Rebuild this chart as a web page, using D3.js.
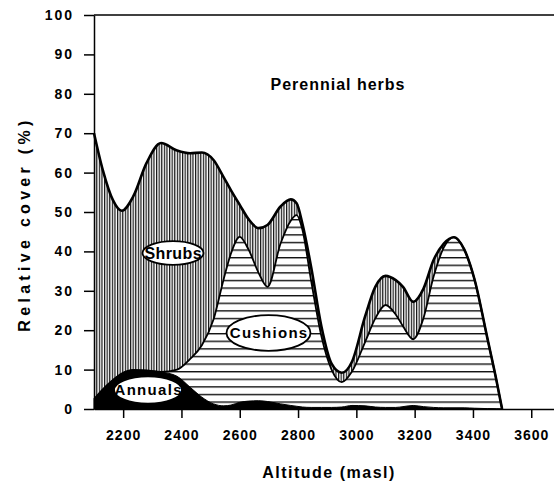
<!DOCTYPE html>
<html><head><meta charset="utf-8">
<script src="https://cdn.jsdelivr.net/npm/d3@7"></script>
<style>body{margin:0;background:#fff}svg{display:block}</style>
</head><body>
<svg id="chart" width="554" height="483"></svg>
<script>
// Altitude (m a.s.l.) sample points
const altitude = [2100,2130,2165,2195,2235,2280,2330,2385,2430,2470,2510,2545,2570,2600,2630,2665,2695,2740,2775,2795,2815,2845,2880,2915,2950,2985,3030,3065,3100,3135,3160,3195,3230,3265,3300,3335,3370,3405,3450,3480,3500];
// Relative cover (%) of each life form
const annuals  = [2.5,5,7.4,9,9.9,9.8,9.4,8.3,5.5,3,1.3,0.8,1,1.7,2,2.1,1.9,1.3,0.9,0.7,0.5,0.4,0.4,0.4,0.5,0.9,0.8,0.5,0.4,0.4,0.6,0.9,0.6,0.4,0.3,0.3,0.3,0.2,0.1,0.05,0];
const cushions = [0,0,0,0,0,0,0,1.7,7.2,13.2,21.4,32.2,38.5,42,38.5,32.4,29.1,40.7,46.9,48.5,45,32.1,18.1,9.6,6.3,8.6,16.2,22.5,26,23.6,20.4,16.8,22.4,33.2,40.7,43.3,40.2,32.8,17.7,7.45,0];
const shrubs   = [67.5,55.7,45.6,41.3,44.1,52.6,58.1,55.6,52.2,48.9,40.5,25.8,16,8.1,7.7,11.4,15.7,9.4,5.4,3,1.5,3.5,2.5,1.5,2.4,2.5,6.5,8,7.4,8.7,10,9.5,7.5,4.2,1,0,0,0,0,0,0];
const seriesNames = ["Annuals","Cushions","Shrubs"];
const xTicks = [2200,2400,2600,2800,3000,3200,3400,3600];
const yTicks = [0,10,20,30,40,50,60,70,80,90,100];

const FONT = "'Liberation Sans', Arial, sans-serif";
const svg = d3.select("#chart");
const x = d3.scaleLinear().domain([2100, 3700]).range([94, 560.4]);
const y = d3.scaleLinear().domain([0, 100]).range([409, 15]);

const rows = altitude.map((a, i) => ({alt: a, Annuals: annuals[i], Cushions: cushions[i], Shrubs: shrubs[i]}));
const stacked = d3.stack().keys(seriesNames)(rows);

const defs = svg.append("defs");
const vh = defs.append("pattern").attr("id", "vh").attr("patternUnits", "userSpaceOnUse")
  .attr("width", 2.6).attr("height", 10);
vh.append("rect").attr("width", 2.6).attr("height", 10).attr("fill", "#fff");
vh.append("rect").attr("x", 0).attr("width", 1.2).attr("height", 10).attr("fill", "#111");
const hh = defs.append("pattern").attr("id", "hh").attr("patternUnits", "userSpaceOnUse")
  .attr("width", 10).attr("height", 7.6).attr("y", 409 % 7.6 - 7.6);
hh.append("rect").attr("width", 10).attr("height", 7.6).attr("fill", "#fff");
hh.append("rect").attr("y", 0).attr("width", 10).attr("height", 1.4).attr("fill", "#111");

const areaTop = d3.area().x(d => x(d.data.alt)).y0(y(0)).y1(d => y(d[1])).curve(d3.curveMonotoneX);
const lineTop = d3.line().x(d => x(d.data.alt)).y(d => y(d[1])).curve(d3.curveMonotoneX);

const sShr = stacked[2], sCus = stacked[1], sAnn = stacked[0];
svg.append("path").datum(sShr).attr("d", areaTop).attr("fill", "url(#vh)");
svg.append("path").datum(sCus).attr("d", areaTop).attr("fill", "url(#hh)");
svg.append("path").datum(sCus).attr("d", lineTop).attr("fill", "none").attr("stroke", "#000").attr("stroke-width", 1.8);
svg.append("path").datum(sShr).attr("d", lineTop).attr("fill", "none").attr("stroke", "#000").attr("stroke-width", 2.6);
svg.append("path").datum(sAnn).attr("d", areaTop).attr("fill", "#000").attr("stroke", "#000").attr("stroke-width", 1);

// top frame line
svg.append("line").attr("x1", x(2100)).attr("x2", x(3700)).attr("y1", y(100)).attr("y2", y(100))
  .attr("stroke", "#000").attr("stroke-width", 1.5);

// axes
const yAxis = svg.append("g").attr("transform", `translate(${x(2100)},0)`)
  .call(d3.axisLeft(y).tickValues(yTicks).tickSize(10).tickSizeOuter(0).tickPadding(10));
const xAxis = svg.append("g").attr("transform", `translate(0,${y(0)})`)
  .call(d3.axisBottom(x).tickValues(xTicks).tickSize(9).tickSizeOuter(0).tickFormat(d3.format("d")));
[yAxis, xAxis].forEach(g => {
  g.select(".domain").attr("stroke", "#000").attr("stroke-width", 1.5);
  g.selectAll(".tick line").attr("stroke", "#000").attr("stroke-width", 1.5);
  g.selectAll("text").attr("font-family", FONT).attr("font-weight", "bold").attr("font-size", 14).attr("fill", "#000");
});
yAxis.selectAll("text").attr("letter-spacing", 2).attr("dx", "0");
xAxis.selectAll("text").attr("letter-spacing", 1).attr("y", 31).attr("dy", 0);

// axis titles
svg.append("text").attr("transform", "translate(30,224) rotate(-90)").attr("text-anchor", "middle")
  .attr("font-family", FONT).attr("font-weight", "bold").attr("font-size", 16).attr("letter-spacing", 4.3)
  .text("Relative cover (%)");
svg.append("text").attr("x", 329).attr("y", 478).attr("text-anchor", "middle")
  .attr("font-family", FONT).attr("font-weight", "bold").attr("font-size", 16).attr("letter-spacing", 1.5)
  .text("Altitude (masl)");

// in-plot labels
svg.append("text").attr("x", 338).attr("y", 90).attr("text-anchor", "middle")
  .attr("font-family", FONT).attr("font-weight", "bold").attr("font-size", 16).attr("letter-spacing", 1)
  .text("Perennial herbs");

const bubbles = [
  {name: "Shrubs", cx: 173, cy: 253, rx: 30.5, ry: 11.8, fs: 16, ls: 0.4},
  {name: "Cushions", cx: 268.5, cy: 333, rx: 42, ry: 17.8, fs: 15, ls: 1.3},
  {name: "Annuals", cx: 148, cy: 390, rx: 34, ry: 13.7, fs: 15, ls: 1.3}
];
bubbles.forEach(b => {
  svg.append("ellipse").attr("cx", b.cx).attr("cy", b.cy).attr("rx", b.rx).attr("ry", b.ry)
    .attr("fill", "#fff").attr("stroke", "#000").attr("stroke-width", 1.8);
  svg.append("text").attr("x", b.cx + b.ls / 2).attr("y", b.cy).attr("dy", "0.36em").attr("text-anchor", "middle")
    .attr("font-family", FONT).attr("font-weight", "bold").attr("font-size", b.fs).attr("letter-spacing", b.ls)
    .text(b.name);
});
</script>
</body></html>
